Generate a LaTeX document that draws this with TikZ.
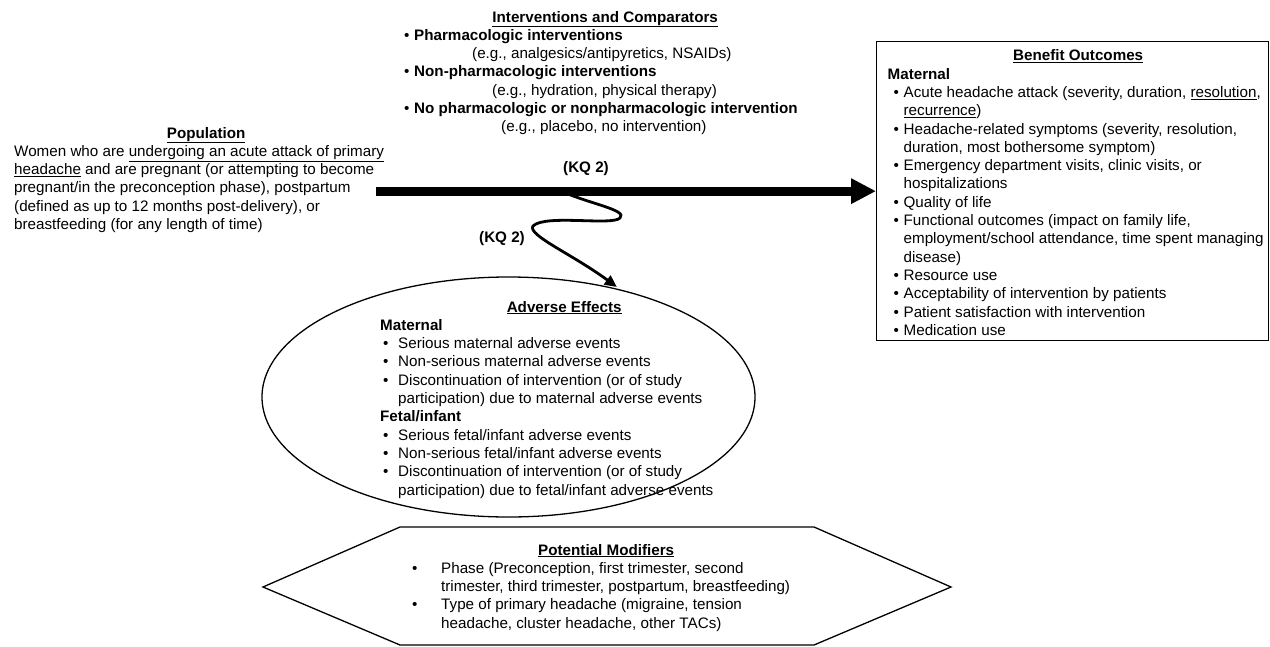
\documentclass[tikz,border=0pt]{standalone}
\usepackage{fontspec}
\setmainfont{Liberation Sans}
\usepackage{tikz}
\usetikzlibrary{arrows.meta,shapes.geometric}
\newcommand{\heading}[1]{\textbf{\underline{#1}}}
\newcommand{\bul}[2]{\hspace*{#1}\makebox[\dimexpr#2-#1\relax][l]{\textbullet}}
\tikzstyle{txt} = [inner sep=0pt, anchor=base west]
\tikzstyle{outbox} = [draw, line width=1.3pt, rectangle, inner sep=0pt, minimum width=392pt, minimum height=299pt, anchor=north west]
\tikzstyle{aebox} = [draw, line width=1.3pt, ellipse, inner sep=0pt, minimum width=493pt, minimum height=240pt]
\tikzstyle{bigarrow} = [line width=9pt, -{Triangle[length=25pt,width=24pt]}]
\tikzstyle{wavy} = [line width=2.8pt, -{Triangle[length=12pt,width=11pt]}, shorten >=4pt]

\begin{document}
\begin{tikzpicture}[x=1pt, y=-1pt, font=\fontsize{15.2}{18.3}\selectfont]
	\useasboundingbox (0,0) rectangle (1270,646);

	\node[txt](population) at (14,138){
		\begin{minipage}[t]{384pt}\raggedright
			\makebox[384pt]{\heading{Population}}\\
			Women who are \underline{undergoing an acute attack of primary}\\
			\underline{headache} and are pregnant (or attempting to become\\
			pregnant/in the preconception phase), postpartum\\
			(defined as up to 12 months post-delivery), or\\
			breastfeeding (for any length of time)
		\end{minipage}};

	\node[txt](interv) at (404,22){
		\begin{minipage}[t]{420pt}\raggedright
			\makebox[402pt]{\heading{Interventions and Comparators}}\\
			\bul{0pt}{10pt}\textbf{Pharmacologic interventions}\\
			\hspace*{68pt}(e.g., analgesics/antipyretics, NSAIDs)\\
			\bul{0pt}{10pt}\textbf{Non-pharmacologic interventions}\\
			\hspace*{88pt}(e.g., hydration, physical therapy)\\
			\bul{0pt}{10pt}\textbf{No pharmacologic or nonpharmacologic intervention}\\
			\hspace*{97pt}(e.g., placebo, no intervention)
		\end{minipage}};

	\node[outbox](benefit) at (876,41){
		\begin{minipage}{392pt}\raggedright\leftskip=11pt
			\vspace*{3pt}
			\makebox[381pt]{\heading{Benefit Outcomes}}\\
			\textbf{Maternal}\\
			\bul{6pt}{16pt}Acute headache attack (severity, duration, \underline{resolution},\\
			\hspace*{16pt}\underline{recurrence})\\
			\bul{6pt}{16pt}Headache-related symptoms (severity, resolution,\\
			\hspace*{16pt}duration, most bothersome symptom)\\
			\bul{6pt}{16pt}Emergency department visits, clinic visits, or\\
			\hspace*{16pt}hospitalizations\\
			\bul{6pt}{16pt}Quality of life\\
			\bul{6pt}{16pt}Functional outcomes (impact on family life,\\
			\hspace*{16pt}employment/school attendance, time spent managing\\
			\hspace*{16pt}disease)\\
			\bul{6pt}{16pt}Resource use\\
			\bul{6pt}{16pt}Acceptability of intervention by patients\\
			\bul{6pt}{16pt}Patient satisfaction with intervention\\
			\bul{6pt}{16pt}Medication use
		\end{minipage}};

	\node[aebox](adverse) at (508.5,397){};
	\node[txt](adversetxt) at (380,312){
		\begin{minipage}[t]{390pt}\raggedright
			\makebox[368pt]{\heading{Adverse Effects}}\\
			\textbf{Maternal}\\
			\bul{3pt}{18pt}Serious maternal adverse events\\
			\bul{3pt}{18pt}Non-serious maternal adverse events\\
			\bul{3pt}{18pt}Discontinuation of intervention (or of study\\
			\hspace*{18pt}participation) due to maternal adverse events\\
			\textbf{Fetal/infant}\\
			\bul{3pt}{18pt}Serious fetal/infant adverse events\\
			\bul{3pt}{18pt}Non-serious fetal/infant adverse events\\
			\bul{3pt}{18pt}Discontinuation of intervention (or of study\\
			\hspace*{18pt}participation) due to fetal/infant adverse events
		\end{minipage}};

	% modifiers hexagon
	\draw[line width=1.3pt] (263,587) -- (400,527) -- (814,527) -- (951,587) -- (814,645) -- (400,645) -- cycle;
	\node[txt](modifiers) at (412,555){
		\begin{minipage}[t]{420pt}\raggedright
			\makebox[388pt]{\heading{Potential Modifiers}}\\
			\bul{0pt}{29pt}Phase (Preconception, first trimester, second\\
			\hspace*{29pt}trimester, third trimester, postpartum, breastfeeding)\\
			\bul{0pt}{29pt}Type of primary headache (migraine, tension\\
			\hspace*{29pt}headache, cluster headache, other TACs)
		\end{minipage}};

	\draw[bigarrow] ([xshift=-22pt]population.east |- benefit.west) -- coordinate[pos=0.37] (fork) (benefit.west);
	\draw[wavy] (fork) .. controls (590,204) and (628,210) .. (620,218)
		.. controls (612,226) and (545,214) .. (533,226)
		.. controls (527,235) and (572,254) .. (adverse.44);
	\node(kqa) at (586,169){\textbf{(KQ 2)}};
	\node(kqb) at (502,239){\textbf{(KQ 2)}};
\end{tikzpicture}
\end{document}
